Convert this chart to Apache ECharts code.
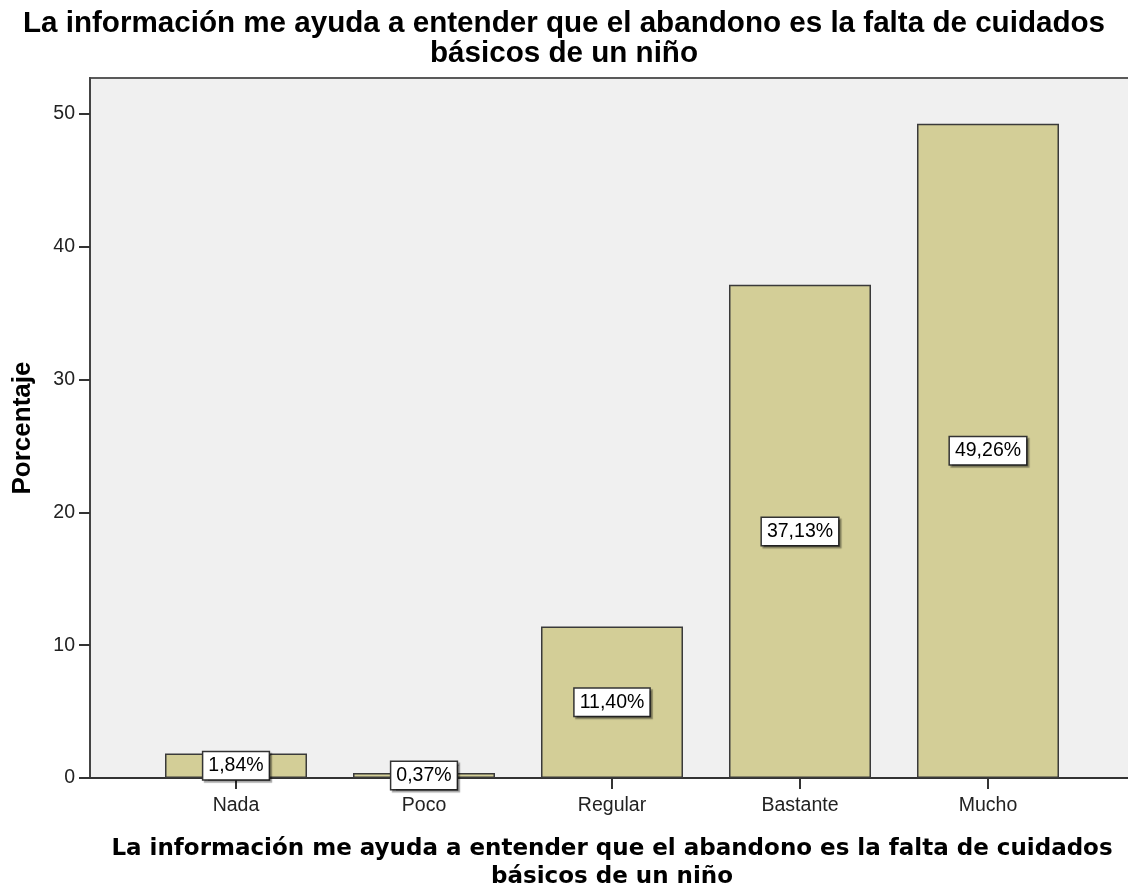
<!DOCTYPE html>
<html>
<head>
<meta charset="utf-8">
<script src="https://cdn.jsdelivr.net/npm/echarts@6/dist/echarts.min.js"></script>
<style>
  html, body { margin: 0; padding: 0; background: #fff; }
  #chart { width: 1128px; height: 888px; }
</style>
</head>
<body>
<div id="chart"></div>
<script>
// datos
const categorias = ['Nada', 'Poco', 'Regular', 'Bastante', 'Mucho']
const porcentajes = [1.84, 0.37, 11.40, 37.13, 49.26]
const ticksY = [0, 10, 20, 30, 40, 50]
const titulo = 'La información me ayuda a entender que el abandono es la falta de cuidados\nbásicos de un niño'

const myChart = echarts.init(document.getElementById('chart'))

// posiciones de las barras: 0..n-1 en un eje de valores
const posiciones = categorias.map((c, i) => i)
const barData = porcentajes.map((v, i) => [posiciones[i], v])

const option = {
  backgroundColor: '#ffffff',
  animation: false,
  title: {
    text: titulo,
    left: 'center',
    top: 9,
    padding: 0,
    textStyle: {
      fontFamily: 'Liberation Sans, Arial, sans-serif',
      fontWeight: 'bold',
      fontSize: 29.6,
      lineHeight: 30,
      color: '#000'
    }
  },
  grid: {
    left: 90,
    top: 78,
    right: -6,
    bottom: 110,
    outerBoundsMode: 'none',
    containLabel: false,
    show: true,
    backgroundColor: '#f0f0f0',
    borderColor: '#5a5a5a',
    borderWidth: 2
  },
  xAxis: {
    type: 'value',
    min: -0.7766,
    max: 4.7766,
    name: titulo,
    nameLocation: 'middle',
    nameGap: 57,
    nameTextStyle: {
      fontFamily: 'DejaVu Sans, sans-serif',
      fontWeight: 'bold',
      fontSize: 23,
      lineHeight: 28,
      color: '#000'
    },
    axisLine: { show: true, onZero: false, lineStyle: { color: '#333', width: 2 } },
    axisTick: { show: true, length: 11, customValues: posiciones, lineStyle: { color: '#333', width: 2 } },
    axisLabel: {
      customValues: posiciones,
      margin: 18,
      fontFamily: 'Liberation Sans, Arial, sans-serif',
      fontSize: 19.5,
      color: '#222',
      formatter: function (v) { return categorias[Math.round(v)] }
    },
    splitLine: { show: false }
  },
  yAxis: {
    type: 'value',
    min: 0,
    max: 52.7,
    name: 'Porcentaje',
    nameLocation: 'middle',
    nameGap: 54,
    nameTextStyle: {
      fontFamily: 'Liberation Sans, Arial, sans-serif',
      fontWeight: 'bold',
      fontSize: 26,
      color: '#000'
    },
    axisLine: { show: true, onZero: false, lineStyle: { color: '#444', width: 2 } },
    axisTick: { show: true, length: 11, customValues: ticksY, lineStyle: { color: '#333', width: 2 } },
    axisLabel: {
      customValues: ticksY,
      margin: 15,
      fontFamily: 'Liberation Sans, Arial, sans-serif',
      fontSize: 19.5,
      color: '#222'
    },
    splitLine: { show: false }
  },
  series: [{
    type: 'bar',
    barWidth: 142,
    data: barData,
    itemStyle: {
      color: '#d3ce97',
      borderColor: '#3a3a3a',
      borderWidth: 1.5
    },
    label: {
      show: true,
      position: 'inside',
      formatter: function (p) {
        return p.value[1].toFixed(2).replace('.', ',') + '%'
      },
      fontFamily: 'Liberation Sans, Arial, sans-serif',
      fontSize: 19.5,
      color: '#000',
      backgroundColor: '#ffffff',
      borderColor: '#333',
      borderWidth: 1.5,
      padding: [4, 5, 3, 5],
      shadowColor: 'rgba(0,0,0,0.35)',
      shadowOffsetX: 2,
      shadowOffsetY: 2,
      shadowBlur: 1
    },
    z: 3
  }]
}

myChart.setOption(option)
</script>
</body>
</html>
